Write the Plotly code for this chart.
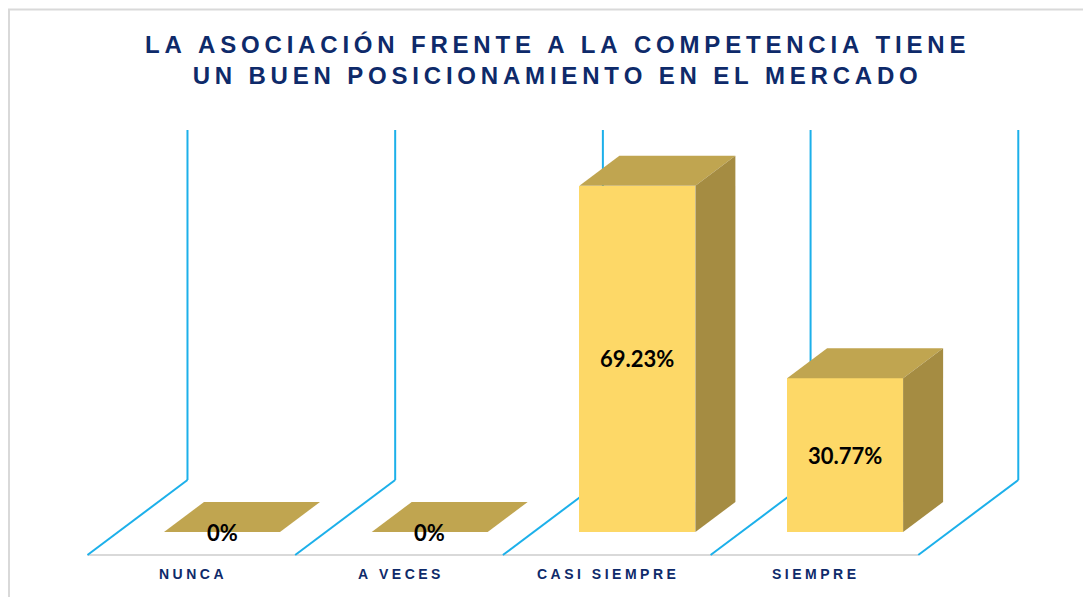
import plotly.graph_objects as go

# ---- data ----
categories = ["NUNCA", "A VECES", "CASI SIEMPRE", "SIEMPRE"]
values = [0, 0, 69.23, 30.77]
value_labels = ["0%", "0%", "69.23%", "30.77%"]
title_lines = ["LA ASOCIACIÓN FRENTE A LA COMPETENCIA TIENE", "UN BUEN POSICIONAMIENTO EN EL MERCADO"]
wall_max = 70

# ---- style / geometry ----
FRONT = "#FDD867"
TOP = "#C0A550"
SIDE = "#A58C42"
BLUE = "#1CB0EA"
NAVY = "#0E2A6A"
W = 1091
H = 597
OFF = 8                          # page offset of the figure (body margin)
px_per_cat = 207.7
px_per_val = 5.0
cat0_px = 222.0 - OFF
zero_px = 532.0 - OFF
bar_w = 116 / px_per_cat
full_dx = 100 / px_per_cat      # full floor depth in x units
full_dy = 75 / px_per_val       # full floor depth in y units
front_d = -23 / 75              # floor front relative to bar front
back_d = 52 / 75                # back wall relative to bar front
bar_d = 0.4                     # bar depth


def proj(c, v, d):
    return c + d * full_dx, v + d * full_dy


def spaced(s, sep):
    out = []
    for word in s.split(" "):
        out.append(sep.join(word))
    return (sep + " " + sep).join(out)


x_range = [-cat0_px / px_per_cat, (W - cat0_px) / px_per_cat]
y_range = [-(H - zero_px) / px_per_val, zero_px / px_per_val]

fig = go.Figure()
shapes = []

# floor front line
n = len(categories)
bx0, by0 = proj(-0.5, 0, front_d)
bx1, by1 = proj(n - 0.5, 0, front_d)
shapes.append(dict(type="line", xref="x", yref="y", x0=bx0, y0=by0, x1=bx1, y1=by1,
                   line=dict(color="#D9D9D9", width=2), layer="below"))

# category boundary lines (floor diagonal + back wall vertical)
for k in range(n + 1):
    b = k - 0.5
    fx, fy = proj(b, 0, front_d)
    kx, ky = proj(b, 0, back_d)
    tx, ty = proj(b, wall_max, back_d)
    shapes.append(dict(type="line", xref="x", yref="y", x0=fx, y0=fy, x1=kx, y1=ky,
                       line=dict(color=BLUE, width=2), layer="below"))
    shapes.append(dict(type="line", xref="x", yref="y", x0=kx, y0=ky, x1=tx, y1=ty,
                       line=dict(color=BLUE, width=2), layer="below"))

# border of the picture
shapes.append(dict(type="rect", xref="paper", yref="paper",
                   x0=1 / W, y0=-0.1, x1=1.1, y1=1 - 1.5 / H,
                   line=dict(color="#D9D9D9", width=2), layer="below"))

# front faces
fig.add_trace(go.Bar(x=list(range(n)), y=values, width=bar_w,
                     marker=dict(color=FRONT, line=dict(width=0)),
                     hoverinfo="skip"))

# top and side faces
for i, v in enumerate(values):
    l, r = i - bar_w / 2, i + bar_w / 2
    pts = [proj(l, v, 0), proj(r, v, 0), proj(r, v, bar_d), proj(l, v, bar_d)]
    fig.add_trace(go.Scatter(x=[p[0] for p in pts] + [pts[0][0]],
                             y=[p[1] for p in pts] + [pts[0][1]],
                             mode="lines", fill="toself", fillcolor=TOP,
                             line=dict(width=0, color=TOP), hoverinfo="skip"))
    if v > 0:
        pts = [proj(r, 0, 0), proj(r, v, 0), proj(r, v, bar_d), proj(r, 0, bar_d)]
        fig.add_trace(go.Scatter(x=[p[0] for p in pts] + [pts[0][0]],
                                 y=[p[1] for p in pts] + [pts[0][1]],
                                 mode="lines", fill="toself", fillcolor=SIDE,
                                 line=dict(width=0, color=SIDE), hoverinfo="skip"))

annotations = []
# value labels
for i, (v, lab) in enumerate(zip(values, value_labels)):
    annotations.append(dict(x=i, y=v / 2, xref="x", yref="y", text="<b>" + lab + "</b>",
                            showarrow=False, xanchor="center", yanchor="middle",
                            font=dict(family="Lato, Liberation Sans, sans-serif", size=22, color="#000000")))

# category labels
for i, c in enumerate(categories):
    lx, ly = proj(i, 0, front_d)
    annotations.append(dict(x=lx, y=ly - 19 / px_per_val, xref="x", yref="y",
                            text="<b>" + spaced(c, "\u2005") + "</b>",
                            showarrow=False, xanchor="center", yanchor="middle",
                            font=dict(family="Liberation Sans, Arial, sans-serif", size=14, color=NAVY)))

# title
annotations.append(dict(x=(555 - OFF) / W, y=1 - (60 - OFF) / H, xref="paper", yref="paper",
                        text="<b>" + "<br>".join(spaced(t, "\u2009") for t in title_lines) + "</b>",
                        showarrow=False, xanchor="center", yanchor="middle",
                        font=dict(family="Liberation Sans, Arial, sans-serif", size=24, color=NAVY)))

fig.update_layout(
    width=W, height=H,
    margin=dict(l=0, r=0, t=0, b=0),
    paper_bgcolor="white", plot_bgcolor="white",
    showlegend=False, hovermode=False,
    xaxis=dict(range=x_range, visible=False, fixedrange=True),
    yaxis=dict(range=y_range, visible=False, fixedrange=True),
    shapes=shapes, annotations=annotations,
    bargap=0,
)

fig.write_html("out.html")
